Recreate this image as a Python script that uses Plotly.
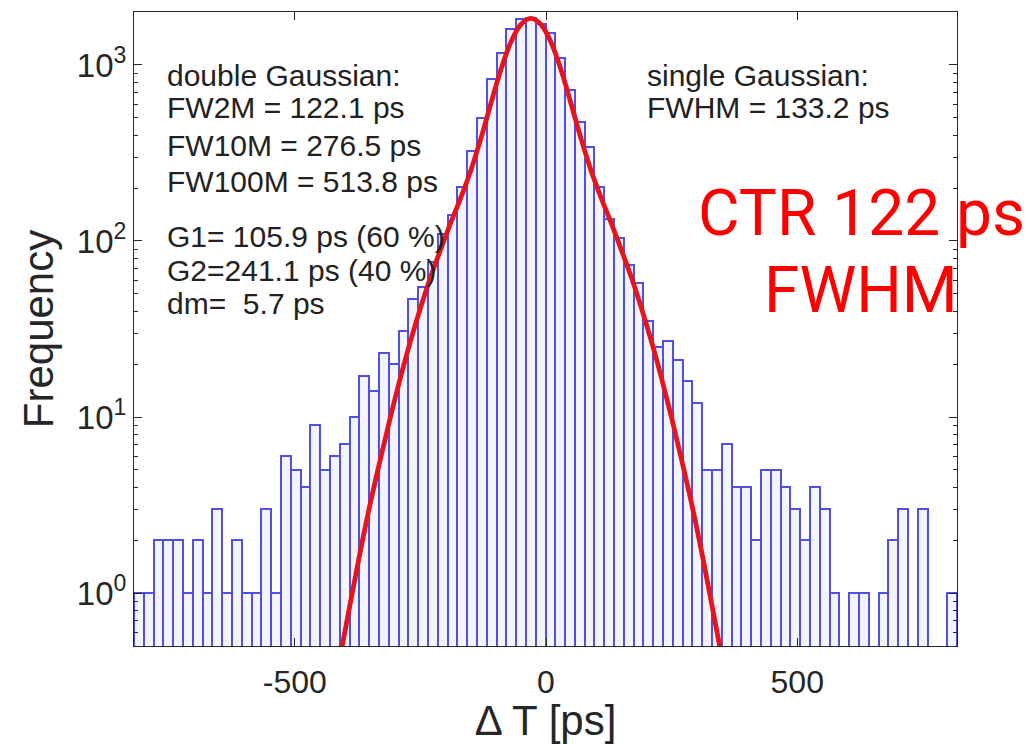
import plotly.graph_objects as go

# Histogram definition (ps)
bin_start = -820.0
bin_width = 19.5
counts = [1, 1, 2, 2, 2, 1, 2, 1, 3, 1, 2, 1, 1, 3, 1, 6, 5, 4, 9, 5,
          6, 7, 10, 17, 14, 23, 20, 31, 47, 55, 76, 110, 140, 202, 323, 498, 837, 1175, 1610, 1820,
          1840, 1720, 1510, 1090, 717, 472, 340, 202, 133, 104, 73, 58, 35, 25, 27, 21, 16, 12, 5, 5,
          7, 4, 4, 2, 5, 5, 4, 3, 2, 4, 3, 1, 0, 1, 1, 0, 1, 2, 3, 0,
          3, 0, 0, 1]

# Double-Gaussian fit curve
fit_x = [-410, -390, -370, -350, -330, -310, -290, -270, -250, -230, -210, -190, -170,
         -150, -130, -110, -90, -70, -50, -30, -10, 10, 30, 50, 70, 90, 110, 130, 150,
         170, 190, 210, 230, 250, 270, 290, 310, 330, 350]
fit_y = [0.43, 0.86, 1.7, 3.2, 5.7, 9.9, 16.6, 26.8, 41.5, 62, 89, 126, 175,
         250, 379, 600, 936, 1345, 1698, 1840, 1698, 1345, 936, 600, 379, 250, 175, 126, 89,
         62, 41.5, 26.8, 16.6, 9.9, 5.7, 3.2, 1.7, 0.86, 0.43]

x_ticks = [-500, 0, 500]
y_ticks = [1, 10, 100, 1000]
y_ticktext = ["10<sup>0</sup>", "10<sup>1</sup>", "10<sup>2</sup>", "10<sup>3</sup>"]
y_minor = [m * 10 ** k for k in range(-1, 4) for m in range(2, 10)]

left_lines = ["double Gaussian:", "FW2M = 122.1 ps", "FW10M = 276.5 ps", "FW100M = 513.8 ps",
              "G1= 105.9 ps (60 %)", "G2=241.1 ps (40 %)", "dm=  5.7 ps"]
right_lines = ["single Gaussian:", "FWHM = 133.2 ps"]
ctr_lines = ["CTR 122 ps", "FWHM"]

centers = [bin_start + bin_width * (i + 0.5) for i in range(len(counts))]
bx = [c for c, v in zip(centers, counts) if v > 0]
by = [v for v in counts if v > 0]

fig = go.Figure()
fig.add_trace(go.Bar(
    x=bx, y=by, width=bin_width,
    marker=dict(color="#f4f4ff", line=dict(color="rgb(80,80,230)", width=2)),
    showlegend=False, hoverinfo="x+y"))
fig.add_trace(go.Scatter(
    x=fit_x, y=fit_y, mode="lines", line=dict(color="#e8141b", width=4.8, shape="spline"),
    showlegend=False))

W, H = 1027, 744
L, R, T, B = 134, 70, 12, 98
pw, ph = W - L - R, H - T - B

def px(xp):
    return (xp - L) / pw

def py(yp):
    return (H - B - yp) / ph

ann = []
text_font = dict(family="Liberation Sans, Arial, sans-serif", size=30, color="#222222")
left_y = [75, 108, 145, 181, 236, 270, 303]
for t, yy in zip(left_lines, left_y):
    ann.append(dict(text=t, x=px(165), y=py(yy), xref="paper", yref="paper",
                    xanchor="left", yanchor="middle", showarrow=False, font=text_font))
right_y = [75, 108]
for t, yy in zip(right_lines, right_y):
    ann.append(dict(text=t, x=px(645), y=py(yy), xref="paper", yref="paper",
                    xanchor="left", yanchor="middle", showarrow=False, font=text_font))
ctr_y = [213, 290]
for t, yy in zip(ctr_lines, ctr_y):
    ann.append(dict(text=t, x=px(861), y=py(yy), xref="paper", yref="paper",
                    xanchor="center", yanchor="middle", showarrow=False,
                    font=dict(family="Roboto, sans-serif", size=64, color="#ff0000")))

fig.update_layout(
    width=W, height=H,
    margin=dict(l=L, r=R, t=T, b=B),
    paper_bgcolor="white", plot_bgcolor="white",
    bargap=0,
    annotations=ann,
    font=dict(family="Liberation Sans, Arial, sans-serif", color="#262626"),
)
fig.update_xaxes(
    range=[-820, 818], tickvals=x_ticks, ticktext=[str(v) for v in x_ticks],
    ticks="inside", ticklen=8, tickwidth=1, tickcolor="#262626",
    showline=True, linecolor="#262626", linewidth=1, mirror="ticks",
    showgrid=False, zeroline=False, ticklabelstandoff=8,
    tickfont=dict(size=32, color="#262626"),
    title=dict(text="Δ T [ps]", font=dict(size=42, color="#262626"), standoff=0),
)
fig.update_yaxes(
    type="log", range=[-0.30103, 3.30103],
    tickvals=y_ticks, ticktext=y_ticktext,
    ticks="inside", ticklen=8, tickwidth=1, tickcolor="#262626",
    minor=dict(tickvals=y_minor, ticks="inside", ticklen=4, tickwidth=1,
               tickcolor="#262626", showgrid=False),
    showline=True, linecolor="#262626", linewidth=1, mirror="ticks",
    showgrid=False, zeroline=False,
    tickfont=dict(size=33, color="#262626"),
    title=dict(text="Frequency", font=dict(size=42, color="#262626"), standoff=10),
)

fig.write_html("out.html")
